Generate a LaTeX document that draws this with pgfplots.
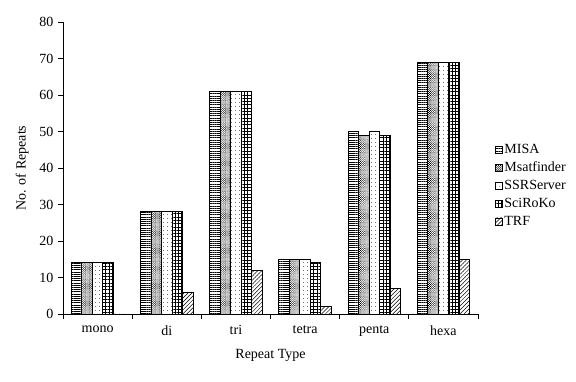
\documentclass[border=0pt]{standalone}
\usepackage{pgfplots}
\pgfplotsset{compat=1.18}
\usepackage{fontspec}
\setmainfont{Liberation Serif}
\usetikzlibrary{patterns,patterns.meta}
\begin{document}
\begin{tikzpicture}
\begin{axis}[name=ax,
  scale only axis, width=415pt, height=292pt,
  font=\fontsize{14}{16}\selectfont,
  /pgf/number format/assume math mode=true,
  ybar=0pt, bar width=10.5pt,
  xmin=-0.5, xmax=5.5, ymin=0, ymax=80,
  ytick={0,10,...,80},
  xtick={0,...,5}, xticklabels={mono,di,tri,tetra,penta,hexa},
  major x tick style={draw=none},
  minor xtick={-0.5,0.5,...,5.5},
  minor tick length=5pt, major tick length=5pt,
  tick align=outside,
  axis x line*=bottom, axis y line*=left,
  axis line style={-, black, line width=0.8pt},
  tick style={black, line width=0.8pt},
  xticklabel style={yshift=-3pt},
  yticklabel style={xshift=-1pt},
  ylabel={No. of Repeats}, xlabel={Repeat Type},
  ylabel style={yshift=4pt},
  xlabel style={yshift=-6pt},
  legend style={at={(1.04,0.44)}, anchor=west, draw=none, fill=none, row sep=3pt,
    font=\fontsize{14}{16}\selectfont, inner xsep=0pt},
  legend cell align=left,
  legend image code/.code={\draw[#1, line width=0.6pt] (0pt,-3.5pt) rectangle (7pt,3.5pt);},
]
\addplot[draw=black, line width=0.8pt, pattern={Lines[angle=0,distance=2.2pt,line width=0.6pt]}] coordinates {(0,14) (1,28) (2,61) (3,15) (4,50) (5,69)};
\addplot[draw=black, line width=0.8pt, pattern={Dots[distance=1.5pt,radius=0.6pt,angle=45]}] coordinates {(0,14) (1,28) (2,61) (3,15) (4,49) (5,69)};
\addplot[draw=black, line width=0.8pt, pattern={Dots[distance=4pt,radius=0.45pt]}] coordinates {(0,14) (1,28) (2,61) (3,15) (4,50) (5,69)};
\addplot[draw=black, line width=0.8pt, pattern={Hatch[angle=0,distance=3.3pt,line width=0.6pt]}] coordinates {(0,14) (1,28) (2,61) (3,14) (4,49) (5,69)};
\addplot[draw=black, line width=0.8pt, pattern={Lines[angle=45,distance=2.8pt,line width=0.5pt]}] coordinates {(0,0) (1,6) (2,12) (3,2) (4,7) (5,15)};
\legend{MISA,Msatfinder,SSRServer,SciRoKo,TRF}
\end{axis}
\path[use as bounding box] ([xshift=-63pt,yshift=-68pt]ax.south west) rectangle ([xshift=98pt,yshift=22pt]ax.north east);
\end{tikzpicture}
\end{document}
